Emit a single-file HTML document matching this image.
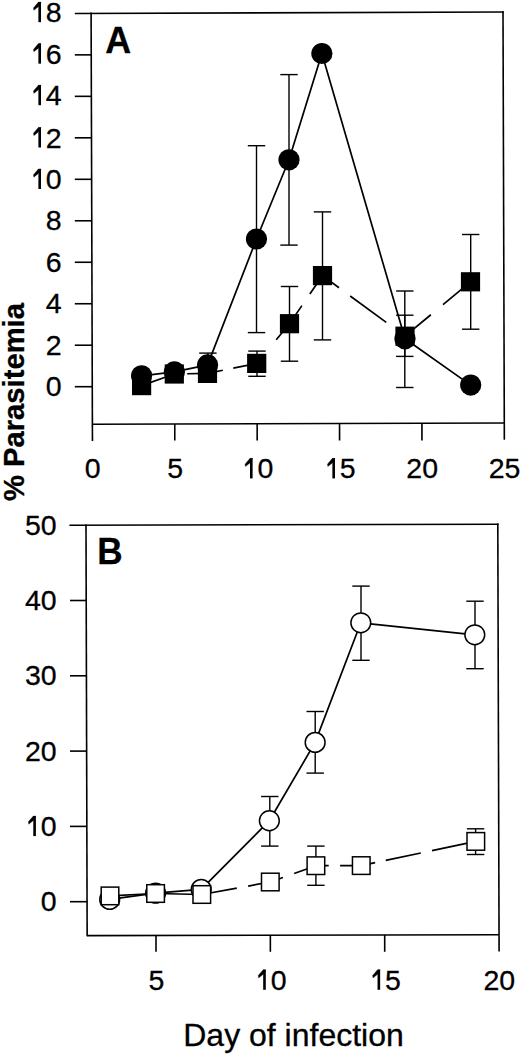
<!DOCTYPE html>
<html><head><meta charset="utf-8"><style>
html,body{margin:0;padding:0;background:#fff;}
svg{display:block;}
text{font-family:"Liberation Sans", sans-serif;fill:#000;stroke:#000;stroke-width:0.3px;}
</style></head><body>
<svg width="520" height="1055" viewBox="0 0 520 1055">
<rect width="520" height="1055" fill="#fff"/>
<line x1="91.10" y1="12.60" x2="92.45" y2="441.00" stroke="#000" stroke-width="1.6" stroke-linecap="butt"/>
<line x1="74.80" y1="13.45" x2="503.80" y2="12.00" stroke="#000" stroke-width="1.6" stroke-linecap="butt"/>
<line x1="503.00" y1="11.20" x2="504.35" y2="439.80" stroke="#000" stroke-width="1.6" stroke-linecap="butt"/>
<line x1="92.40" y1="424.30" x2="504.30" y2="423.00" stroke="#000" stroke-width="1.6" stroke-linecap="butt"/>
<line x1="74.80" y1="386.70" x2="92.28" y2="386.70" stroke="#000" stroke-width="1.6" stroke-linecap="butt"/>
<text x="45.85" y="396.38" font-size="28.5" text-anchor="start" >0</text>
<line x1="74.80" y1="345.22" x2="92.15" y2="345.22" stroke="#000" stroke-width="1.6" stroke-linecap="butt"/>
<text x="45.85" y="354.50" font-size="28.5" text-anchor="start" >2</text>
<line x1="74.80" y1="303.74" x2="92.02" y2="303.74" stroke="#000" stroke-width="1.6" stroke-linecap="butt"/>
<text x="45.85" y="313.42" font-size="28.5" text-anchor="start" >4</text>
<line x1="74.80" y1="262.26" x2="91.89" y2="262.26" stroke="#000" stroke-width="1.6" stroke-linecap="butt"/>
<text x="45.85" y="271.94" font-size="28.5" text-anchor="start" >6</text>
<line x1="74.80" y1="220.78" x2="91.76" y2="220.78" stroke="#000" stroke-width="1.6" stroke-linecap="butt"/>
<text x="45.85" y="230.46" font-size="28.5" text-anchor="start" >8</text>
<line x1="74.80" y1="179.30" x2="91.62" y2="179.30" stroke="#000" stroke-width="1.6" stroke-linecap="butt"/>
<rect x="38.39" y="168.94" width="2.62" height="20.04" fill="#000"/>
<path d="M41.01,168.94 L38.39,168.94 L33.43,174.73 L33.86,177.15 L38.39,173.50 Z" fill="#000" stroke="#000" stroke-width="0.3" stroke-linejoin="round"/>
<text x="45.85" y="188.98" font-size="28.5" text-anchor="start" >0</text>
<line x1="74.80" y1="137.82" x2="91.49" y2="137.82" stroke="#000" stroke-width="1.6" stroke-linecap="butt"/>
<rect x="38.39" y="127.46" width="2.62" height="20.04" fill="#000"/>
<path d="M41.01,127.46 L38.39,127.46 L33.43,133.25 L33.86,135.67 L38.39,132.02 Z" fill="#000" stroke="#000" stroke-width="0.3" stroke-linejoin="round"/>
<text x="45.85" y="147.50" font-size="28.5" text-anchor="start" >2</text>
<line x1="74.80" y1="96.34" x2="91.36" y2="96.34" stroke="#000" stroke-width="1.6" stroke-linecap="butt"/>
<rect x="38.39" y="85.18" width="2.62" height="20.04" fill="#000"/>
<path d="M41.01,85.18 L38.39,85.18 L33.43,90.97 L33.86,93.39 L38.39,89.74 Z" fill="#000" stroke="#000" stroke-width="0.3" stroke-linejoin="round"/>
<text x="45.85" y="105.22" font-size="28.5" text-anchor="start" >4</text>
<line x1="74.80" y1="54.86" x2="91.23" y2="54.86" stroke="#000" stroke-width="1.6" stroke-linecap="butt"/>
<rect x="38.39" y="43.60" width="2.62" height="20.04" fill="#000"/>
<path d="M41.01,43.60 L38.39,43.60 L33.43,49.39 L33.86,51.81 L38.39,48.16 Z" fill="#000" stroke="#000" stroke-width="0.3" stroke-linejoin="round"/>
<text x="45.85" y="63.64" font-size="28.5" text-anchor="start" >6</text>
<rect x="38.39" y="2.12" width="2.62" height="20.04" fill="#000"/>
<path d="M41.01,2.12 L38.39,2.12 L33.43,7.91 L33.86,10.33 L38.39,6.68 Z" fill="#000" stroke="#000" stroke-width="0.3" stroke-linejoin="round"/>
<text x="45.85" y="22.16" font-size="28.5" text-anchor="start" >8</text>
<text x="84.78" y="478.40" font-size="28.5" text-anchor="start" >0</text>
<line x1="174.78" y1="424.03" x2="174.80" y2="440.60" stroke="#000" stroke-width="1.6" stroke-linecap="butt"/>
<text x="167.16" y="478.40" font-size="28.5" text-anchor="start" >5</text>
<line x1="257.16" y1="423.75" x2="257.18" y2="440.60" stroke="#000" stroke-width="1.6" stroke-linecap="butt"/>
<rect x="249.99" y="458.36" width="2.62" height="20.04" fill="#000"/>
<path d="M252.61,458.36 L249.99,458.36 L245.03,464.15 L245.46,466.57 L249.99,462.92 Z" fill="#000" stroke="#000" stroke-width="0.3" stroke-linejoin="round"/>
<text x="257.46" y="478.40" font-size="28.5" text-anchor="start" >0</text>
<line x1="339.54" y1="423.48" x2="339.56" y2="440.60" stroke="#000" stroke-width="1.6" stroke-linecap="butt"/>
<rect x="332.37" y="458.36" width="2.62" height="20.04" fill="#000"/>
<path d="M334.99,458.36 L332.37,458.36 L327.41,464.15 L327.84,466.57 L332.37,462.92 Z" fill="#000" stroke="#000" stroke-width="0.3" stroke-linejoin="round"/>
<text x="339.84" y="478.40" font-size="28.5" text-anchor="start" >5</text>
<line x1="421.92" y1="423.21" x2="421.94" y2="440.60" stroke="#000" stroke-width="1.6" stroke-linecap="butt"/>
<text x="406.37" y="478.40" font-size="28.5" text-anchor="start" >2</text>
<text x="422.22" y="478.40" font-size="28.5" text-anchor="start" >0</text>
<text x="488.75" y="478.40" font-size="28.5" text-anchor="start" >2</text>
<text x="504.60" y="478.40" font-size="28.5" text-anchor="start" >5</text>
<line x1="207.90" y1="353.10" x2="207.90" y2="365.00" stroke="#000" stroke-width="1.4" stroke-linecap="butt"/>
<line x1="199.20" y1="353.10" x2="216.60" y2="353.10" stroke="#000" stroke-width="1.4" stroke-linecap="butt"/>
<line x1="256.50" y1="145.70" x2="256.50" y2="332.60" stroke="#000" stroke-width="1.4" stroke-linecap="butt"/>
<line x1="247.80" y1="145.70" x2="265.20" y2="145.70" stroke="#000" stroke-width="1.4" stroke-linecap="butt"/>
<line x1="247.80" y1="332.60" x2="265.20" y2="332.60" stroke="#000" stroke-width="1.4" stroke-linecap="butt"/>
<line x1="289.00" y1="74.60" x2="289.00" y2="245.10" stroke="#000" stroke-width="1.4" stroke-linecap="butt"/>
<line x1="280.30" y1="74.60" x2="297.70" y2="74.60" stroke="#000" stroke-width="1.4" stroke-linecap="butt"/>
<line x1="280.30" y1="245.10" x2="297.70" y2="245.10" stroke="#000" stroke-width="1.4" stroke-linecap="butt"/>
<line x1="404.80" y1="291.00" x2="404.80" y2="387.50" stroke="#000" stroke-width="1.4" stroke-linecap="butt"/>
<line x1="396.10" y1="291.00" x2="413.50" y2="291.00" stroke="#000" stroke-width="1.4" stroke-linecap="butt"/>
<line x1="396.10" y1="387.50" x2="413.50" y2="387.50" stroke="#000" stroke-width="1.4" stroke-linecap="butt"/>
<polyline points="141.60,375.80 174.40,371.90 207.60,364.90 256.50,239.00 289.00,159.80 321.90,53.50 405.00,338.80 470.70,385.10" fill="none" stroke="#000" stroke-width="1.7" stroke-linejoin="round"/>
<circle cx="141.6" cy="375.8" r="10.6" fill="#000"/>
<circle cx="174.4" cy="371.9" r="10.6" fill="#000"/>
<circle cx="207.6" cy="364.9" r="10.6" fill="#000"/>
<circle cx="256.5" cy="239.0" r="10.6" fill="#000"/>
<circle cx="289.0" cy="159.8" r="10.6" fill="#000"/>
<circle cx="321.9" cy="53.5" r="10.6" fill="#000"/>
<circle cx="405.0" cy="338.8" r="10.6" fill="#000"/>
<circle cx="470.7" cy="385.1" r="10.6" fill="#000"/>
<line x1="257.00" y1="351.10" x2="257.00" y2="376.30" stroke="#000" stroke-width="1.4" stroke-linecap="butt"/>
<line x1="248.30" y1="351.10" x2="265.70" y2="351.10" stroke="#000" stroke-width="1.4" stroke-linecap="butt"/>
<line x1="248.30" y1="376.30" x2="265.70" y2="376.30" stroke="#000" stroke-width="1.4" stroke-linecap="butt"/>
<line x1="289.50" y1="286.50" x2="289.50" y2="361.20" stroke="#000" stroke-width="1.4" stroke-linecap="butt"/>
<line x1="280.80" y1="286.50" x2="298.20" y2="286.50" stroke="#000" stroke-width="1.4" stroke-linecap="butt"/>
<line x1="280.80" y1="361.20" x2="298.20" y2="361.20" stroke="#000" stroke-width="1.4" stroke-linecap="butt"/>
<line x1="322.50" y1="211.90" x2="322.50" y2="339.90" stroke="#000" stroke-width="1.4" stroke-linecap="butt"/>
<line x1="313.80" y1="211.90" x2="331.20" y2="211.90" stroke="#000" stroke-width="1.4" stroke-linecap="butt"/>
<line x1="313.80" y1="339.90" x2="331.20" y2="339.90" stroke="#000" stroke-width="1.4" stroke-linecap="butt"/>
<line x1="404.80" y1="315.20" x2="404.80" y2="356.40" stroke="#000" stroke-width="1.4" stroke-linecap="butt"/>
<line x1="396.10" y1="315.20" x2="413.50" y2="315.20" stroke="#000" stroke-width="1.4" stroke-linecap="butt"/>
<line x1="396.10" y1="356.40" x2="413.50" y2="356.40" stroke="#000" stroke-width="1.4" stroke-linecap="butt"/>
<line x1="470.70" y1="234.50" x2="470.70" y2="329.20" stroke="#000" stroke-width="1.4" stroke-linecap="butt"/>
<line x1="462.00" y1="234.50" x2="479.40" y2="234.50" stroke="#000" stroke-width="1.4" stroke-linecap="butt"/>
<line x1="462.00" y1="329.20" x2="479.40" y2="329.20" stroke="#000" stroke-width="1.4" stroke-linecap="butt"/>
<line x1="141.60" y1="385.60" x2="174.30" y2="374.00" stroke="#000" stroke-width="1.7" stroke-linecap="butt"/>
<line x1="187.20" y1="373.77" x2="207.50" y2="373.40" stroke="#000" stroke-width="1.7" stroke-linecap="butt"/>
<line x1="207.50" y1="373.40" x2="222.89" y2="370.27" stroke="#000" stroke-width="1.7" stroke-linecap="butt"/>
<line x1="233.27" y1="368.16" x2="256.70" y2="363.40" stroke="#000" stroke-width="1.7" stroke-linecap="butt"/>
<line x1="276.25" y1="339.73" x2="289.50" y2="323.70" stroke="#000" stroke-width="1.7" stroke-linecap="butt"/>
<line x1="289.50" y1="323.70" x2="301.89" y2="305.64" stroke="#000" stroke-width="1.7" stroke-linecap="butt"/>
<line x1="309.87" y1="294.01" x2="322.50" y2="275.60" stroke="#000" stroke-width="1.7" stroke-linecap="butt"/>
<line x1="322.50" y1="275.60" x2="339.02" y2="287.74" stroke="#000" stroke-width="1.7" stroke-linecap="butt"/>
<line x1="350.22" y1="295.96" x2="386.25" y2="322.43" stroke="#000" stroke-width="1.7" stroke-linecap="butt"/>
<line x1="405.00" y1="336.20" x2="430.85" y2="314.73" stroke="#000" stroke-width="1.7" stroke-linecap="butt"/>
<line x1="443.00" y1="304.64" x2="470.50" y2="281.80" stroke="#000" stroke-width="1.7" stroke-linecap="butt"/>
<rect x="132.00" y="376.00" width="19.2" height="19.2" fill="#000"/>
<rect x="164.70" y="364.40" width="19.2" height="19.2" fill="#000"/>
<rect x="197.90" y="363.80" width="19.2" height="19.2" fill="#000"/>
<rect x="247.10" y="353.80" width="19.2" height="19.2" fill="#000"/>
<rect x="279.90" y="314.10" width="19.2" height="19.2" fill="#000"/>
<rect x="312.90" y="266.00" width="19.2" height="19.2" fill="#000"/>
<rect x="395.40" y="326.60" width="19.2" height="19.2" fill="#000"/>
<rect x="460.90" y="272.20" width="19.2" height="19.2" fill="#000"/>
<text x="105.20" y="52.70" font-size="37" text-anchor="start" font-weight="bold" transform="translate(105.2 0) scale(0.97 1) translate(-105.2 0)">A</text>
<line x1="86.00" y1="524.40" x2="87.15" y2="936.30" stroke="#000" stroke-width="1.6" stroke-linecap="butt"/>
<line x1="69.40" y1="525.25" x2="498.60" y2="524.20" stroke="#000" stroke-width="1.6" stroke-linecap="butt"/>
<line x1="497.80" y1="523.40" x2="499.10" y2="951.40" stroke="#000" stroke-width="1.6" stroke-linecap="butt"/>
<line x1="87.10" y1="935.60" x2="499.10" y2="934.80" stroke="#000" stroke-width="1.6" stroke-linecap="butt"/>
<line x1="70.00" y1="901.70" x2="87.01" y2="901.70" stroke="#000" stroke-width="1.6" stroke-linecap="butt"/>
<text x="40.75" y="911.38" font-size="28.5" text-anchor="start" >0</text>
<line x1="70.00" y1="826.40" x2="86.81" y2="826.40" stroke="#000" stroke-width="1.6" stroke-linecap="butt"/>
<rect x="33.29" y="816.04" width="2.62" height="20.04" fill="#000"/>
<path d="M35.91,816.04 L33.29,816.04 L28.33,821.83 L28.76,824.25 L33.29,820.60 Z" fill="#000" stroke="#000" stroke-width="0.3" stroke-linejoin="round"/>
<text x="40.75" y="836.08" font-size="28.5" text-anchor="start" >0</text>
<line x1="70.00" y1="751.10" x2="86.61" y2="751.10" stroke="#000" stroke-width="1.6" stroke-linecap="butt"/>
<text x="24.91" y="760.78" font-size="28.5" text-anchor="start" >2</text>
<text x="40.75" y="760.78" font-size="28.5" text-anchor="start" >0</text>
<line x1="70.00" y1="675.80" x2="86.40" y2="675.80" stroke="#000" stroke-width="1.6" stroke-linecap="butt"/>
<text x="24.91" y="685.48" font-size="28.5" text-anchor="start" >3</text>
<text x="40.75" y="685.48" font-size="28.5" text-anchor="start" >0</text>
<line x1="70.00" y1="600.50" x2="86.20" y2="600.50" stroke="#000" stroke-width="1.6" stroke-linecap="butt"/>
<text x="24.91" y="610.18" font-size="28.5" text-anchor="start" >4</text>
<text x="40.75" y="610.18" font-size="28.5" text-anchor="start" >0</text>
<text x="24.91" y="534.88" font-size="28.5" text-anchor="start" >5</text>
<text x="40.75" y="534.88" font-size="28.5" text-anchor="start" >0</text>
<line x1="156.00" y1="935.46" x2="156.00" y2="951.80" stroke="#000" stroke-width="1.6" stroke-linecap="butt"/>
<text x="148.38" y="989.80" font-size="28.5" text-anchor="start" >5</text>
<line x1="270.35" y1="935.24" x2="270.35" y2="951.80" stroke="#000" stroke-width="1.6" stroke-linecap="butt"/>
<rect x="263.18" y="969.76" width="2.62" height="20.04" fill="#000"/>
<path d="M265.81,969.76 L263.18,969.76 L258.22,975.55 L258.65,977.97 L263.18,974.32 Z" fill="#000" stroke="#000" stroke-width="0.3" stroke-linejoin="round"/>
<text x="270.65" y="989.80" font-size="28.5" text-anchor="start" >0</text>
<line x1="384.70" y1="935.01" x2="384.70" y2="951.80" stroke="#000" stroke-width="1.6" stroke-linecap="butt"/>
<rect x="377.53" y="969.76" width="2.62" height="20.04" fill="#000"/>
<path d="M380.16,969.76 L377.53,969.76 L372.57,975.55 L373.00,977.97 L377.53,974.32 Z" fill="#000" stroke="#000" stroke-width="0.3" stroke-linejoin="round"/>
<text x="385.00" y="989.80" font-size="28.5" text-anchor="start" >5</text>
<text x="483.50" y="989.80" font-size="28.5" text-anchor="start" >2</text>
<text x="499.35" y="989.80" font-size="28.5" text-anchor="start" >0</text>
<line x1="269.80" y1="796.50" x2="269.80" y2="846.10" stroke="#000" stroke-width="1.4" stroke-linecap="butt"/>
<line x1="261.10" y1="796.50" x2="278.50" y2="796.50" stroke="#000" stroke-width="1.4" stroke-linecap="butt"/>
<line x1="261.10" y1="846.10" x2="278.50" y2="846.10" stroke="#000" stroke-width="1.4" stroke-linecap="butt"/>
<line x1="315.20" y1="711.50" x2="315.20" y2="773.10" stroke="#000" stroke-width="1.4" stroke-linecap="butt"/>
<line x1="306.50" y1="711.50" x2="323.90" y2="711.50" stroke="#000" stroke-width="1.4" stroke-linecap="butt"/>
<line x1="306.50" y1="773.10" x2="323.90" y2="773.10" stroke="#000" stroke-width="1.4" stroke-linecap="butt"/>
<line x1="361.00" y1="586.10" x2="361.00" y2="660.30" stroke="#000" stroke-width="1.4" stroke-linecap="butt"/>
<line x1="352.30" y1="586.10" x2="369.70" y2="586.10" stroke="#000" stroke-width="1.4" stroke-linecap="butt"/>
<line x1="352.30" y1="660.30" x2="369.70" y2="660.30" stroke="#000" stroke-width="1.4" stroke-linecap="butt"/>
<line x1="475.00" y1="601.20" x2="475.00" y2="668.70" stroke="#000" stroke-width="1.4" stroke-linecap="butt"/>
<line x1="466.30" y1="601.20" x2="483.70" y2="601.20" stroke="#000" stroke-width="1.4" stroke-linecap="butt"/>
<line x1="466.30" y1="668.70" x2="483.70" y2="668.70" stroke="#000" stroke-width="1.4" stroke-linecap="butt"/>
<polyline points="109.70,899.40 155.60,893.10 201.20,889.40 269.35,820.75 315.15,742.40 360.80,622.80 474.80,634.80" fill="none" stroke="#000" stroke-width="1.7" stroke-linejoin="round"/>
<circle cx="109.7" cy="899.4" r="9.9" fill="#fff" stroke="#000" stroke-width="1.5"/>
<circle cx="155.6" cy="893.1" r="9.9" fill="#fff" stroke="#000" stroke-width="1.5"/>
<circle cx="201.2" cy="889.4" r="9.9" fill="#fff" stroke="#000" stroke-width="1.5"/>
<circle cx="269.35" cy="820.75" r="9.9" fill="#fff" stroke="#000" stroke-width="1.5"/>
<circle cx="315.15" cy="742.4" r="9.9" fill="#fff" stroke="#000" stroke-width="1.5"/>
<circle cx="360.8" cy="622.8" r="9.9" fill="#fff" stroke="#000" stroke-width="1.5"/>
<circle cx="474.8" cy="634.8" r="9.9" fill="#fff" stroke="#000" stroke-width="1.5"/>
<line x1="315.90" y1="846.10" x2="315.90" y2="885.30" stroke="#000" stroke-width="1.4" stroke-linecap="butt"/>
<line x1="307.20" y1="846.10" x2="324.60" y2="846.10" stroke="#000" stroke-width="1.4" stroke-linecap="butt"/>
<line x1="307.20" y1="885.30" x2="324.60" y2="885.30" stroke="#000" stroke-width="1.4" stroke-linecap="butt"/>
<line x1="475.60" y1="828.80" x2="475.60" y2="854.50" stroke="#000" stroke-width="1.4" stroke-linecap="butt"/>
<line x1="466.90" y1="828.80" x2="484.30" y2="828.80" stroke="#000" stroke-width="1.4" stroke-linecap="butt"/>
<line x1="466.90" y1="854.50" x2="484.30" y2="854.50" stroke="#000" stroke-width="1.4" stroke-linecap="butt"/>
<line x1="110.00" y1="895.90" x2="155.60" y2="893.50" stroke="#000" stroke-width="1.7" stroke-linecap="butt"/>
<line x1="155.60" y1="893.50" x2="201.80" y2="894.50" stroke="#000" stroke-width="1.7" stroke-linecap="butt"/>
<line x1="201.80" y1="894.50" x2="236.82" y2="888.11" stroke="#000" stroke-width="1.7" stroke-linecap="butt"/>
<line x1="248.13" y1="886.04" x2="270.30" y2="882.00" stroke="#000" stroke-width="1.7" stroke-linecap="butt"/>
<line x1="270.30" y1="882.00" x2="282.92" y2="877.49" stroke="#000" stroke-width="1.7" stroke-linecap="butt"/>
<line x1="294.12" y1="873.48" x2="315.90" y2="865.70" stroke="#000" stroke-width="1.7" stroke-linecap="butt"/>
<line x1="315.90" y1="865.70" x2="328.70" y2="865.67" stroke="#000" stroke-width="1.7" stroke-linecap="butt"/>
<line x1="340.10" y1="865.65" x2="361.25" y2="865.60" stroke="#000" stroke-width="1.7" stroke-linecap="butt"/>
<line x1="361.25" y1="865.60" x2="375.14" y2="862.66" stroke="#000" stroke-width="1.7" stroke-linecap="butt"/>
<line x1="385.71" y1="860.43" x2="420.83" y2="853.01" stroke="#000" stroke-width="1.7" stroke-linecap="butt"/>
<line x1="431.99" y1="850.66" x2="475.80" y2="841.40" stroke="#000" stroke-width="1.7" stroke-linecap="butt"/>
<rect x="101.20" y="887.10" width="17.6" height="17.6" fill="#fff" stroke="#000" stroke-width="1.5"/>
<rect x="146.80" y="884.70" width="17.6" height="17.6" fill="#fff" stroke="#000" stroke-width="1.5"/>
<rect x="193.00" y="885.70" width="17.6" height="17.6" fill="#fff" stroke="#000" stroke-width="1.5"/>
<rect x="261.50" y="873.20" width="17.6" height="17.6" fill="#fff" stroke="#000" stroke-width="1.5"/>
<rect x="307.10" y="856.90" width="17.6" height="17.6" fill="#fff" stroke="#000" stroke-width="1.5"/>
<rect x="352.45" y="856.80" width="17.6" height="17.6" fill="#fff" stroke="#000" stroke-width="1.5"/>
<rect x="467.00" y="832.60" width="17.6" height="17.6" fill="#fff" stroke="#000" stroke-width="1.5"/>
<text x="97.20" y="564.20" font-size="37" text-anchor="start" font-weight="bold" transform="translate(97.2 0) scale(0.95 1) translate(-97.2 0)">B</text>
<text x="24.00" y="402.05" font-size="29.2" text-anchor="middle" font-weight="bold" transform="rotate(-90 24.0 402.05)">% Parasitemia</text>
<text x="293.50" y="1045.60" font-size="32" text-anchor="middle" >Day of infection</text>
</svg></body></html>
